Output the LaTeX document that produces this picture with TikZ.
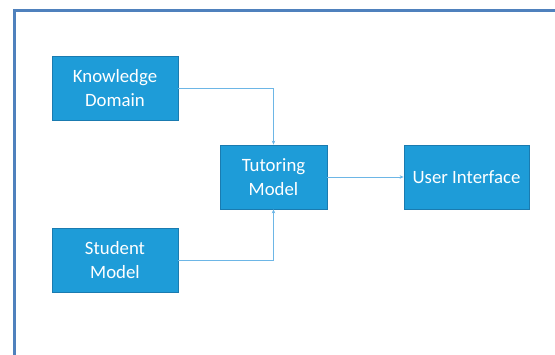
\documentclass[tikz,border=0pt]{standalone}
\usepackage{fontspec}
\setmainfont{Carlito}
\usetikzlibrary{arrows.meta}
\definecolor{boxfill}{HTML}{1E9CD8}
\definecolor{boxedge}{HTML}{1A7BB0}
\definecolor{frameblue}{HTML}{4F81BD}
\definecolor{linkblue}{HTML}{6DB6E6}
\tikzset{
  compbox/.style={draw=boxedge, line width=0.8pt, fill=boxfill, text=white, align=center,
    font=\fontsize{18.8}{23.5}\selectfont, inner sep=0pt},
  link/.style={draw=linkblue, line width=1pt, -{Stealth[length=4pt,width=3.5pt]}}
}
\begin{document}
\begin{tikzpicture}[x=1pt,y=-1pt]
\useasboundingbox (0,0) rectangle (555,354);
\draw[frameblue, line width=3pt] (14.5,400) -- (14.5,10.5) -- (600,10.5);
\node[compbox, minimum width=126pt, minimum height=64pt] (kd) at (115,88) {Knowledge\\Domain};
\node[compbox, minimum width=126pt, minimum height=64pt] (sm) at (115,260) {Student\\Model};
\node[compbox, minimum width=107pt, minimum height=64pt] (tm) at (273.5,177) {Tutoring\\Model};
\node[compbox, minimum width=125pt, minimum height=64pt] (ui) at (466.5,177) {User Interface};
\draw[link] (kd.east) -| (tm.north);
\draw[link] (sm.east) -| (tm.south);
\draw[link] (tm.east) -- (ui.west);
\end{tikzpicture}
\end{document}
